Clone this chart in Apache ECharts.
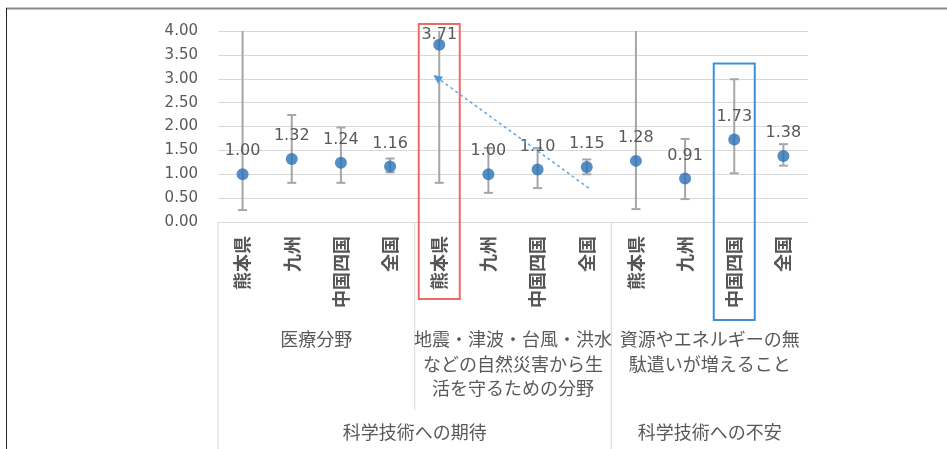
<!DOCTYPE html>
<html>
<head>
<meta charset="utf-8">
<script src="https://cdn.jsdelivr.net/npm/echarts@6/dist/echarts.min.js"></script>
<style>
  html, body { margin: 0; padding: 0; background: #fff; }
  #chart { width: 947px; height: 449px; }
</style>
</head>
<body>
<div id="chart"></div>
<script>
// Regions compared within each survey item
const categories = ['熊本県', '九州', '中国四国', '全国',
                    '熊本県', '九州', '中国四国', '全国',
                    '熊本県', '九州', '中国四国', '全国'];
// Point estimates
const means = [1.00, 1.32, 1.24, 1.16,
               3.71, 1.00, 1.10, 1.15,
               1.28, 0.91, 1.73, 1.38];
// Lower / upper ends of the intervals
const lower = [0.25, 0.82, 0.82, 1.04,
               0.82, 0.61, 0.71, 1.00,
               0.27, 0.48, 1.02, 1.18];
const upper = [4.30, 2.24, 1.98, 1.33,
               4.30, 1.55, 1.55, 1.31,
               4.30, 1.74, 2.99, 1.63];
// Survey items (each covers four regions) and their headings
const groupLabels = ['医療分野',
                     '地震・津波・台風・洪水\nなどの自然災害から生\n活を守るための分野',
                     '資源やエネルギーの無\n駄遣いが増えること'];
const superLabels = ['科学技術への期待', '科学技術への不安'];
const superSpans = [[0, 1], [2, 2]];   // group index ranges
const yTicks = { min: 0, max: 4, interval: 0.5 };

const JP = '"Noto Sans CJK JP", "Noto Sans", sans-serif';
const NUM = '"DejaVu Sans", sans-serif';
const TXT = '#595959';
const GRID = '#d9d9d9';

const chart = echarts.init(document.getElementById('chart'), null, { renderer: 'canvas' });

chart.setOption({
  animation: false,
  backgroundColor: '#fff',
  grid: { left: 218, right: 139, top: 31, bottom: 227 },
  xAxis: {
    type: 'category',
    data: categories,
    boundaryGap: true,
    axisLine: { show: true, lineStyle: { color: GRID, width: 1 } },
    axisTick: { show: false },
    axisLabel: {
      interval: 0, rotate: 90, margin: 14,
      fontSize: 18, fontWeight: 'bold', fontFamily: JP, color: '#555555'
    },
    splitLine: { show: false }
  },
  yAxis: {
    type: 'value',
    min: yTicks.min, max: yTicks.max, interval: yTicks.interval,
    axisLine: { show: false },
    axisTick: { show: false },
    axisLabel: {
      margin: 20, fontSize: 15, fontFamily: NUM, color: TXT,
      formatter: v => v.toFixed(2)
    },
    splitLine: { lineStyle: { color: GRID, width: 1 } }
  },
  series: [
    {
      // interval whiskers
      type: 'custom',
      data: means.map((_, i) => [i, lower[i], upper[i]]),
      z: 2,
      renderItem(params, api) {
        const i = api.value(0), lo = api.value(1), hi = api.value(2);
        const topV = Math.min(hi, yTicks.max);
        const pLo = api.coord([i, lo]);
        const pHi = api.coord([i, topV]);
        const cap = 4.5;
        const style = { stroke: '#a6a6a6', lineWidth: 2 };
        const children = [
          { type: 'line', shape: { x1: pLo[0], y1: pLo[1], x2: pHi[0], y2: pHi[1] }, style },
          { type: 'line', shape: { x1: pLo[0] - cap, y1: pLo[1], x2: pLo[0] + cap, y2: pLo[1] }, style }
        ];
        if (hi <= yTicks.max) {
          children.push({ type: 'line', shape: { x1: pHi[0] - cap, y1: pHi[1], x2: pHi[0] + cap, y2: pHi[1] }, style });
        }
        return { type: 'group', children };
      }
    },
    {
      type: 'scatter',
      data: means.map((v, i) => [i, v]),
      symbol: 'circle',
      symbolSize: 12,
      itemStyle: { color: '#2a72b8' },
      z: 3
    },
    {
      // value labels, kept inside the plot area
      type: 'custom',
      data: means.map((v, i) => [i, v]),
      z: 4,
      renderItem(params, api) {
        const p = api.coord([api.value(0), api.value(1)]);
        const top = api.coord([0, yTicks.max])[1];
        return {
          type: 'text',
          x: p[0],
          y: Math.max(p[1] - 23, top + 4),
          style: {
            text: api.value(1).toFixed(2),
            align: 'center', verticalAlign: 'middle',
            fontSize: 16, fontFamily: NUM, fill: TXT
          }
        };
      }
    }
  ]
});

// Annotation layer: grouped axis headings, separators, highlight boxes, arrow
function px(i) { return chart.convertToPixel({ xAxisIndex: 0 }, i); }
function py(v) { return chart.convertToPixel({ yAxisIndex: 0 }, v); }

const band = px(1) - px(0);
const axisY = py(0);
const groupLeft = g => px(4 * g) - band / 2;
const groupRight = g => px(4 * g + 3) + band / 2;

const graphics = [];

// frame lines of the page
graphics.push({ type: 'line', shape: { x1: 6, y1: 8.5, x2: 947, y2: 8.5 },
  style: { stroke: '#8a8a8a', lineWidth: 2 }, z: 10 });
graphics.push({ type: 'line', shape: { x1: 6.5, y1: 8, x2: 6.5, y2: 449 },
  style: { stroke: '#222', lineWidth: 1 }, z: 10 });

// separators of the multi-level category axis
graphics.push({ type: 'line', shape: { x1: groupLeft(0), y1: axisY, x2: groupLeft(0), y2: 449 },
  style: { stroke: GRID, lineWidth: 1 } });
graphics.push({ type: 'line', shape: { x1: groupLeft(1), y1: axisY, x2: groupLeft(1), y2: 410 },
  style: { stroke: GRID, lineWidth: 1 } });
graphics.push({ type: 'line', shape: { x1: groupLeft(2), y1: axisY, x2: groupLeft(2), y2: 449 },
  style: { stroke: GRID, lineWidth: 1 } });

// second-level headings
groupLabels.forEach((t, g) => {
  graphics.push({
    type: 'text', x: (groupLeft(g) + groupRight(g)) / 2, y: 327,
    style: { text: t, align: 'center', verticalAlign: 'top', lineHeight: 24.5,
      fontSize: 18, fontFamily: JP, fill: TXT }
  });
});
// right edge of the heading row cuts off overflowing text
graphics.push({ type: 'rect', shape: { x: groupRight(2) + 1, y: 325, width: 947 - groupRight(2), height: 40 },
  style: { fill: '#fff' }, z: 5 });

// top-level headings
superLabels.forEach((t, k) => {
  const [a, b] = superSpans[k];
  graphics.push({
    type: 'text', x: (groupLeft(a) + groupRight(b)) / 2, y: 432,
    style: { text: t, align: 'center', verticalAlign: 'middle',
      fontSize: 18, fontFamily: JP, fill: TXT }
  });
});

// highlight boxes around single columns
function boxAround(i, yTop, yBottom, color) {
  const half = 20.5;
  graphics.push({ type: 'rect', shape: { x: px(i) - half, y: yTop, width: 2 * half, height: yBottom - yTop },
    style: { fill: null, stroke: color, lineWidth: 2 }, z: 8 });
}
boxAround(4, 24, 299, '#ee6b64');
boxAround(10, 63.5, 320, '#3f8fd2');

// dashed arrow pointing to the highlighted column
const ax1 = px(7) + 2, ay1 = py(0.71);
const ax2 = px(4) - 6, ay2 = py(3.08);
const ang = Math.atan2(ay2 - ay1, ax2 - ax1);
const head = 10, spread = 0.45;
graphics.push({ type: 'line', shape: { x1: ax1, y1: ay1, x2: ax2 - Math.cos(ang) * 4, y2: ay2 - Math.sin(ang) * 4 },
  style: { stroke: '#62a8e0', lineWidth: 1.5, lineDash: [3, 3] }, z: 9 });
graphics.push({ type: 'polygon', shape: { points: [
    [ax2, ay2],
    [ax2 - head * Math.cos(ang - spread), ay2 - head * Math.sin(ang - spread)],
    [ax2 - head * Math.cos(ang + spread), ay2 - head * Math.sin(ang + spread)]
  ] }, style: { fill: '#4f9bd9' }, z: 9 });

chart.setOption({ graphic: graphics });
</script>
</body>
</html>
